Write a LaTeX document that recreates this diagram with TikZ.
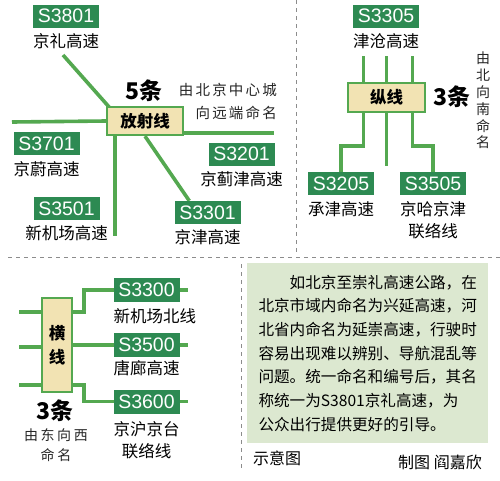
\documentclass[tikz,border=0pt]{standalone}
\usepackage{fontspec}
\setmainfont{Noto Sans CJK SC}
\newfontfamily\latinfont{Liberation Sans}
\usetikzlibrary{positioning,backgrounds,calc}

\definecolor{codegreen}{HTML}{2D8A52}
\definecolor{linegreen}{HTML}{54A850}
\definecolor{hubfill}{HTML}{F2E3B3}
\definecolor{panelgreen}{HTML}{DCE8D0}

\begin{document}
\begin{tikzpicture}[x=1pt, y=-1pt,
  road/.style={draw=linegreen, line width=3.6pt},
  codebox/.style={fill=codegreen, text=white, inner sep=0pt,
    minimum width=66pt, minimum height=23pt,
    font=\latinfont\fontsize{19.5}{19.5}\selectfont},
  roadname/.style={inner sep=0pt, align=center, font=\fontsize{16.5}{22}\selectfont},
  hubbox/.style={draw=linegreen, line width=2.4pt, fill=hubfill, inner sep=0pt,
    font=\bfseries\fontsize{16.5}{24}\selectfont},
  countnum/.style={inner sep=0pt, font=\bfseries\fontsize{23}{23}\selectfont},
  notetext/.style={inner sep=0pt, text=black!85,
    font=\fontsize{14.5}{23}\selectfont\addfontfeatures{LetterSpace=15}},
  divider/.style={draw=black!45, line width=0.8pt, dash pattern=on 4pt off 4pt}]

\useasboundingbox (0,0) rectangle (500,480);

% =========================
% RADIAL LINES
% =========================
\node[hubbox, minimum width=76pt, minimum height=28pt] (fsx) at (145,121) {放射线};
\node[countnum] (fsxn) at (144,91) {5条};
\node[notetext, align=right, anchor=east] (fsxnote) at (277,101) {由北京中心城\\向远端命名};

\node[codebox] (s3801) at (66,16) {S3801};
\node[roadname, below=6pt of s3801] (l3801) {京礼高速};
\node[codebox] (s3701) at (46.5,143.5) {S3701};
\node[roadname, below=6pt of s3701] (l3701) {京蔚高速};
\node[codebox] (s3501) at (66.5,208.5) {S3501};
\node[roadname, below=5pt of s3501] (l3501) {新机场高速};
\node[codebox] (s3201) at (241.5,154) {S3201};
\node[roadname, below=6pt of s3201] (l3201) {京蓟津高速};
\node[codebox] (s3301) at (207.5,212.5) {S3301};
\node[roadname, below=5pt of s3301] (l3301) {京津高速};

\coordinate (a3801) at (63,55);
\coordinate (a3701) at (12,122);
\coordinate (a3201) at (274,133);
\coordinate (a3501) at (115,236);

% =========================
% LONGITUDINAL LINES
% =========================
\node[hubbox, minimum width=77pt, minimum height=29pt] (zx) at (386.5,97.5) {纵线};
\node[countnum] (zxn) at (452,97) {3条};
\node[notetext, align=center, font=\fontsize{14}{16.8}\selectfont] (zxnote) at (483,100.5)
  {由\\北\\向\\南\\命\\名};

\node[codebox] (s3305) at (386,16) {S3305};
\node[roadname, below=6pt of s3305] (l3305) {津沧高速};
\node[codebox] (s3205) at (341,183.5) {S3205};
\node[roadname, below=6pt of s3205] (l3205) {承津高速};
\node[codebox] (s3505) at (433,183.5) {S3505};
\node[roadname, below=6pt of s3505] (l3505) {京哈京津\\联络线};

% =========================
% HORIZONTAL LINES
% =========================
\node[hubbox, minimum width=30pt, minimum height=94pt, align=center] (hx) at (57,345) {横\\线};
\node[countnum] (hxn) at (55,411) {3条};
\node[notetext, align=center, font=\fontsize{14}{20}\selectfont\addfontfeatures{LetterSpace=18}]
  (hxnote) at (56,445) {由东向西\\命名};

\node[codebox, minimum height=24pt] (s3300) at (146.5,290) {S3300};
\node[roadname, anchor=north west] (l3300) at ([yshift=-6pt]s3300.south west) {新机场北线};
\node[codebox, minimum height=24pt] (s3500) at (146.5,345) {S3500};
\node[roadname, anchor=north west] (l3500) at ([yshift=-3pt]s3500.south west) {唐廊高速};
\node[codebox, minimum height=24pt] (s3600) at (146.5,401.5) {S3600};
\node[roadname, anchor=north west] (l3600) at ([yshift=-8pt]s3600.south west) {京沪京台\\联络线};

% =========================
% NOTE PANEL
% =========================
\node[fill=panelgreen, minimum width=241pt, minimum height=180pt, inner sep=0pt,
  anchor=north west, align=left, font=\fontsize{15.6}{23.7}\selectfont] (panel) at (247,263)
  {\hspace{2em}如北京至崇礼高速公路，在\\
   北京市域内命名为兴延高速，河\\
   北省内命名为延崇高速，行驶时\\
   容易出现难以辨别、导航混乱等\\
   问题。统一命名和编号后，其名\\
   称统一为S3801京礼高速，为\\
   公众出行提供更好的引导。};
\node[font=\fontsize{16}{16}\selectfont] (caption) at (277,458) {示意图};
\node[font=\fontsize{16}{16}\selectfont] (credit) at (440,462) {制图 阎嘉欣};

% connectors behind the boxes
\begin{scope}[on background layer]
\fill[white] (0,0) rectangle (500,480);
\draw[divider] (296,0) -- (296,253);
\draw[divider] (8,257) -- (500,257);
\draw[divider] (241,264) -- (241,470);

\draw[road] (a3801) -- ([shift={(4pt,-2pt)}]fsx.north west);
\draw[road] (a3701) -- (fsx.west);
\draw[road] (fsx.east |- a3201) -- (a3201);
\draw[road] (a3501 |- fsx.south) -- (a3501);
\draw[road] (fsx.south) -- ([xshift=15pt]s3301.north west);

\foreach \dx in {-23,0,26}
  \draw[road] ([xshift=\dx pt]zx.north) -- ([xshift=\dx pt, yshift=26pt]zx.north);
\draw[road] ([xshift=-23pt]zx.south) -- ([xshift=-23pt, yshift=-33pt]zx.south) -| (s3205.north);
\draw[road] (zx.south) -- ([yshift=-53pt]zx.south);
\draw[road] ([xshift=26pt]zx.south) -- ([xshift=26pt, yshift=-33pt]zx.south) -| (s3505.north);

\foreach \dy in {33,-2,-40}
  \draw[road] ([yshift=\dy pt]hx.west) -- ([xshift=-22pt, yshift=\dy pt]hx.west);
\draw[road] ([yshift=33pt]hx.east) -- ([xshift=11pt, yshift=33pt]hx.east)
  |- (s3300.west) -- ([xshift=8pt]s3300.east);
\draw[road] (hx.east) -- (s3500.west) -- ([xshift=8pt]s3500.east);
\draw[road] ([yshift=-40pt]hx.east) -- ([xshift=11pt, yshift=-40pt]hx.east)
  |- (s3600.west) -- ([xshift=8pt]s3600.east);
\end{scope}

\end{tikzpicture}
\end{document}
